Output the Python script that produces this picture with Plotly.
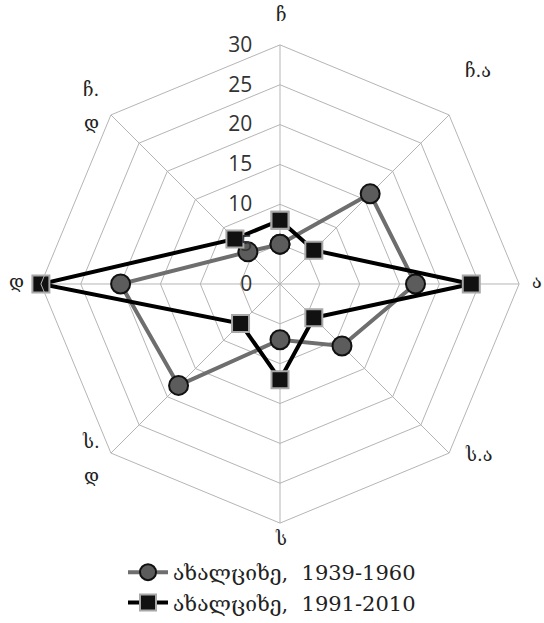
import plotly.graph_objects as go

directions = ["ჩ", "ჩ.ა", "ა", "ს.ა", "ს", "ს.დ", "დ", "ჩ.დ"]
series1_name = "ახალციხე,  1939-1960"
series2_name = "ახალციხე,  1991-2010"
series1 = [5, 16, 17, 11, 7, 18, 20, 5.7]
series2 = [8, 6, 24, 6, 12, 7, 30, 8]
radial_ticks = [0, 5, 10, 15, 20, 25, 30]

def closed(v):
    return list(v) + [v[0]]

fig = go.Figure()
fig.add_trace(go.Scatterpolar(
    r=closed(series1), theta=closed(directions), name=series1_name,
    mode="lines+markers",
    line=dict(color="#6e6e6e", width=4),
    marker=dict(symbol="circle", size=19, color="#5c5c5c",
                line=dict(color="#111111", width=2)),
))
fig.add_trace(go.Scatterpolar(
    r=closed(series2), theta=closed(directions), name=series2_name,
    mode="lines+markers",
    line=dict(color="#000000", width=4),
    marker=dict(symbol="square", size=17, color="#111111",
                line=dict(color="#a8a8a8", width=2)),
))

W, H = 544, 623
cx, cy, R = 280, 291, 245

# direction labels placed around the octagon (pixel layout positions)
label_pos = {
    "ჩ": [(281, 15)],
    "ჩ.ა": [(478, 72)],
    "ა": [(537, 288)],
    "ს.ა": [(478, 466)],
    "ს": [(281, 552)],
    "ს.დ": [(91, 452), (91, 487)],
    "დ": [(16, 288)],
    "ჩ.დ": [(91, 92), (91, 126)],
}
annotations = []
for d in directions:
    pos = label_pos[d]
    parts = [d] if len(pos) == 1 else [d.split(".")[0] + ".", d.split(".")[1]]
    for txt, (px, py) in zip(parts, pos):
        annotations.append(dict(
            text=txt, x=px / W, y=1 - py / H, xref="paper", yref="paper",
            xanchor="center", yanchor="middle", showarrow=False,
            font=dict(family="DejaVu Serif", size=18, color="#222222"),
        ))

fig.update_layout(
    width=W, height=H,
    margin=dict(l=0, r=0, t=0, b=0),
    paper_bgcolor="white",
    font=dict(family="DejaVu Serif", color="#222222"),
    annotations=annotations,
    polar=dict(
        bgcolor="white",
        gridshape="linear",
        domain=dict(x=[(cx - R) / W, (cx + R) / W],
                    y=[1 - (cy + R) / H, 1 - (cy - R) / H]),
        radialaxis=dict(
            range=[0, 30], tickvals=radial_ticks, angle=90,
            tickangle=90, side="counterclockwise",
            showline=False, gridcolor="#b5b5b5", gridwidth=1,
            ticks="outside", ticklen=20, tickcolor="rgba(0,0,0,0)",
            tickfont=dict(family="Open Sans", size=21, color="#333333"),
        ),
        angularaxis=dict(
            direction="clockwise", rotation=90, showticklabels=False,
            gridcolor="#b5b5b5", linecolor="#b5b5b5", linewidth=1,
            ticks="",
        ),
    ),
    legend=dict(
        orientation="v", x=0.5, xanchor="center", y=1 - 566 / H, yanchor="top",
        font=dict(family="DejaVu Serif", size=21, color="#222222"),
        bgcolor="rgba(0,0,0,0)", tracegroupgap=0, itemwidth=40,
    ),
)

fig.write_html("out.html", post_script="document.body.style.margin='0';",
               config={"displayModeBar": False})
